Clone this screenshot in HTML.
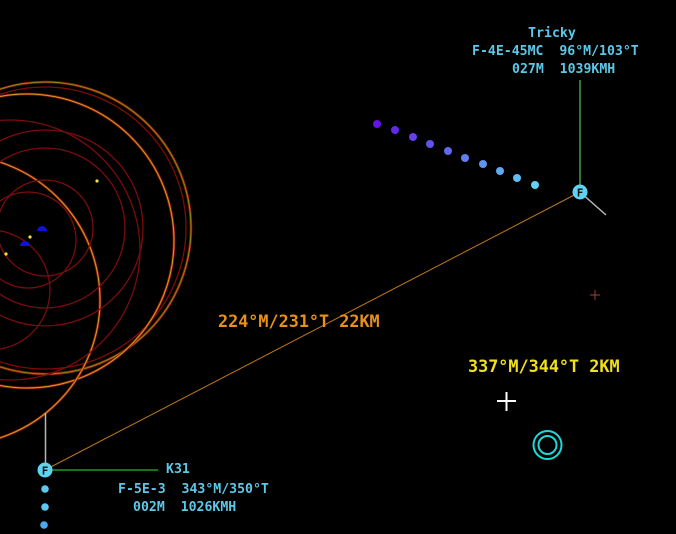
<!DOCTYPE html>
<html><head><meta charset="utf-8"><style>
html,body{margin:0;padding:0;background:#000;width:676px;height:534px;overflow:hidden}
svg{display:block}
text{font-family:"DejaVu Sans Mono","Liberation Mono",monospace;font-weight:bold;white-space:pre}
</style></head><body>
<svg width="676" height="534" viewBox="0 0 676 534" xmlns="http://www.w3.org/2000/svg" xml:space="preserve">
<rect width="676" height="534" fill="#000"/>
<g id="rings"></g>
<g id="marks"></g>
<line x1="580" y1="192" x2="45" y2="470" stroke="#c07818" stroke-width="1"/>
<line x1="580" y1="80" x2="580" y2="192" stroke="#6ee86e" stroke-width="1"/>
<line x1="580" y1="192" x2="606" y2="215" stroke="#b8b8b8" stroke-width="1.5"/>
<line x1="45.5" y1="413" x2="45.5" y2="470" stroke="#b8b8b8" stroke-width="1.5"/>
<line x1="45" y1="470" x2="158" y2="470" stroke="#1e9a1e" stroke-width="1.5"/>
<g id="trails"></g>
<circle cx="580" cy="192" r="7.5" fill="#5fd3f2"/>
<text x="580" y="196.5" font-size="11" fill="#111" text-anchor="middle">F</text>
<circle cx="45" cy="470" r="7.5" fill="#5fd3f2"/>
<text x="45" y="474.5" font-size="11" fill="#111" text-anchor="middle">F</text>
<g fill="#5cc8e8" font-size="13.2">
<text x="552" y="37" text-anchor="middle">Tricky</text>
<text x="472" y="55">F-4E-45MC  96°M/103°T</text>
<text x="512" y="73">027M  1039KMH</text>
<text x="166" y="473">K31</text>
<text x="118" y="493">F-5E-3  343°M/350°T</text>
<text x="133" y="511">002M  1026KMH</text>
</g>
<text x="218" y="327" font-size="16.8" fill="#e8901a">224°M/231°T 22KM</text>
<text x="468" y="372" font-size="16.8" fill="#f0e020">337°M/344°T 2KM</text>
<g stroke="#fff" stroke-width="2">
<line x1="497" y1="401" x2="516" y2="401"/><line x1="506.5" y1="392" x2="506.5" y2="411"/></g>
<g stroke="#a04040" stroke-width="1">
<line x1="590" y1="295" x2="600" y2="295"/><line x1="595" y1="290" x2="595" y2="300"/></g>
<g fill="none" stroke="#1ed8d8" stroke-width="2">
<circle cx="547.5" cy="445" r="14"/><circle cx="547.5" cy="445" r="9"/></g>
</svg>
<script>
// threat rings: centerX, centerY, radius, style
const ringCx=[45,45,27,-45,28,45,45,45,10,-10];
const ringCy=[228,228,241,300,240,228,228,228,250,290];
const ringR=[146,141,147,145,48,48,80,98,130,60];
const ringStyle=['olive','red','yellow','yellow','red','red','red','red','red','red'];
// trail dots (Tricky): x,y
const trailX=[377,395,413,430,448,465,483,500,517,535];
const trailY=[124,130,137,144,151,158,164,171,178,185];
const trail2X=[45,45,44];
const trail2Y=[489,507,525];
// ground units
const unitX=[42,25];const unitY=[228,243];
const dotX=[97,30,6];const dotY=[181,237,254];
const NS='http://www.w3.org/2000/svg';
const rings=document.getElementById('rings');
const colors={red:'#7a0c0c',olive:'#8a8a10',yellow:'#d0a020'};
for(let i=0;i<ringR.length;i++){
  if(ringStyle[i]!=='red'){
    const h=document.createElementNS(NS,'circle');
    h.setAttribute('cx',ringCx[i]);h.setAttribute('cy',ringCy[i]);h.setAttribute('r',ringR[i]);
    h.setAttribute('fill','none');h.setAttribute('stroke','#901808');h.setAttribute('stroke-width','2.6');
    
    
    rings.appendChild(h);
  }
  const c=document.createElementNS(NS,'circle');
  c.setAttribute('cx',ringCx[i]);c.setAttribute('cy',ringCy[i]);c.setAttribute('r',ringR[i]);
  c.setAttribute('fill','none');c.setAttribute('stroke',colors[ringStyle[i]]);
  c.setAttribute('stroke-width',ringStyle[i]==='red'?'1.3':'1');
  
  
  rings.appendChild(c);
}
const marks=document.getElementById('marks');
for(let i=0;i<unitX.length;i++){
  const p=document.createElementNS(NS,'path');
  const x=unitX[i],y=unitY[i];
  p.setAttribute('d',`M${x-5} ${y+3} A5 5 0 0 1 ${x+5} ${y+3} Z`);
  p.setAttribute('fill','#1010e0');
  
  
  marks.appendChild(p);
}
for(let i=0;i<dotX.length;i++){
  const c=document.createElementNS(NS,'circle');
  c.setAttribute('cx',dotX[i]);c.setAttribute('cy',dotY[i]);c.setAttribute('r',1.6);c.setAttribute('fill','#f0e040');
  
  
  marks.appendChild(c);
}
const tr=document.getElementById('trails');
function lerp(a,b,t){return Math.round(a+(b-a)*t);}
for(let i=0;i<trailX.length;i++){
  const t=i/(trailX.length-1);
  const c=document.createElementNS(NS,'circle');
  c.setAttribute('cx',trailX[i]);c.setAttribute('cy',trailY[i]);c.setAttribute('r',4);
  c.setAttribute('fill',`rgb(${lerp(100,95,t)},${lerp(20,210,t)},${lerp(230,245,t)})`);
  
  
  tr.appendChild(c);
}
for(let i=0;i<trail2X.length;i++){
  const c=document.createElementNS(NS,'circle');
  c.setAttribute('cx',trail2X[i]);c.setAttribute('cy',trail2Y[i]);c.setAttribute('r',3.8);
  c.setAttribute('fill',i===2?'#4aa8ee':'#5cc8f0');
  
  
  tr.appendChild(c);
}
</script>
</body></html>
